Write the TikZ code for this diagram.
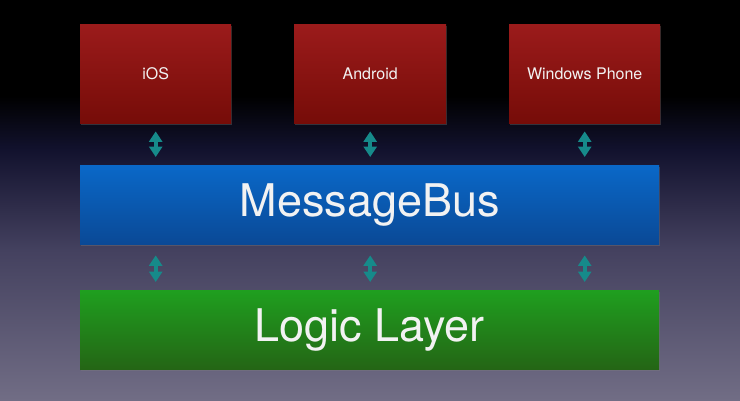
\documentclass[tikz,border=0pt]{standalone}
\usepackage{fontspec}
\setmainfont{TeX Gyre Heros}
\usetikzlibrary{arrows.meta,shadows}
\definecolor{bgA}{HTML}{716D85}
\definecolor{bgB}{HTML}{44415F}
\definecolor{bgC}{HTML}{12122E}
\definecolor{redT}{HTML}{9B1B1B}
\definecolor{redB}{HTML}{760C08}
\definecolor{blueT}{HTML}{0A68C8}
\definecolor{blueB}{HTML}{0A4996}
\definecolor{greenT}{HTML}{1F9F1F}
\definecolor{greenB}{HTML}{246515}
\definecolor{tealA}{HTML}{168A8A}
\definecolor{txt}{HTML}{F2F2F2}
\pgfdeclareverticalshading{bgshade}{100bp}{color(0bp)=(bgA); color(25bp)=(bgA); color(43.75bp)=(bgB); color(56.25bp)=(bgC); color(63bp)=(black); color(100bp)=(black)}
\tikzset{
  box/.style={rectangle, inner sep=0pt, anchor=north west, text=txt,
    drop shadow={shadow xshift=1pt, shadow yshift=-1.5pt, opacity=0.35}},
  redbox/.style={box, top color=redT, bottom color=redB, minimum height=99pt,
    font=\fontsize{16}{19}\selectfont},
  bigbox/.style={box, minimum width=579pt, minimum height=79pt,
    font=\fontsize{45}{52}\selectfont},
  dbl/.style={draw=tealA, line width=4pt,
    {Triangle[length=10.5pt,width=13pt]}-{Triangle[length=10.5pt,width=13pt]}}
}
\begin{document}
\begin{tikzpicture}[x=1pt,y=-1pt]
\useasboundingbox (0,0) rectangle (740,400);
\fill[shading=bgshade] (0,0) rectangle (740,400);
\node[redbox, minimum width=151pt] (ios) at (80,24) {iOS};
\node[redbox, minimum width=152pt] (android) at (294,24) {Android};
\node[redbox, minimum width=151pt] (wp) at (509,24) {Windows Phone};
\node[bigbox, top color=blueT, bottom color=blueB] (bus) at (80,165) {MessageBus};
\node[bigbox, top color=greenT, bottom color=greenB] (logic) at (80,290) {Logic Layer};
\foreach \n in {ios,android,wp}{
  \draw[dbl] ([yshift=-8pt]\n.south) -- ([yshift=8pt]bus.north -| \n.south);
  \draw[dbl] ([yshift=-11pt]bus.south -| \n.south) -- ([yshift=8pt]logic.north -| \n.south);
}
\end{tikzpicture}
\end{document}
